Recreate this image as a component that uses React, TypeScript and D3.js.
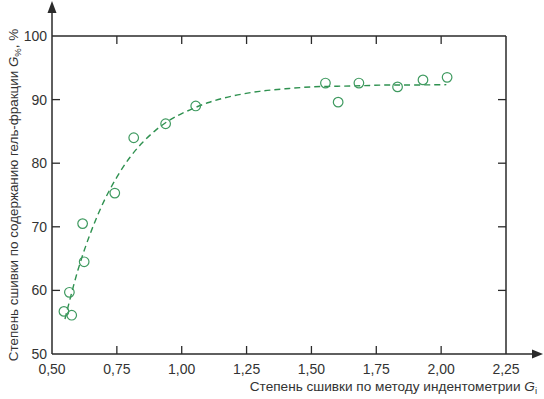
import React from "react";
import * as d3 from "d3";

const pointsX = [0.546, 0.576, 0.567, 0.618, 0.624, 0.742, 0.815, 0.938, 1.054, 1.554, 1.603, 1.683, 1.832, 1.93, 2.023];
const pointsY = [56.7, 56.1, 59.7, 70.5, 64.5, 75.3, 84.0, 86.2, 89.0, 92.6, 89.6, 92.6, 92.0, 93.1, 93.5];

const curveX = [0.55, 0.6, 0.65, 0.7, 0.75, 0.8, 0.85, 0.9, 0.95, 1.0, 1.1, 1.2, 1.3, 1.4, 1.5, 1.6, 1.7, 1.8, 1.9, 2.02];
const curveY = [55.5, 63.2, 69.2, 74.0, 77.8, 80.9, 83.3, 85.2, 86.7, 87.8, 89.5, 90.6, 91.3, 91.7, 92.0, 92.1, 92.2, 92.3, 92.3, 92.35];

const xTicks = [0.5, 0.75, 1.0, 1.25, 1.5, 1.75, 2.0, 2.25];
const yTicks = [50, 60, 70, 80, 90, 100];

const W = 544;
const H = 399;
const L = 52, R = 506, T = 36, B = 354;

export default function App() {
  const x = d3.scaleLinear().domain([0.5, 2.25]).range([L, R]);
  const y = d3.scaleLinear().domain([50, 100]).range([B, T]);
  const line = d3
    .line<number>()
    .x((_, i) => x(curveX[i]))
    .y((d) => y(d))
    .curve(d3.curveCatmullRom);
  const axisColor = "#2a2a2a";
  const textColor = "#333";
  const font = "'Liberation Sans', Arial, sans-serif";
  const fmt = (v: number) => v.toFixed(2).replace(".", ",");
  return (
    <svg
      width={W}
      height={H}
      style={{ position: "absolute", left: 0, top: 0, background: "#fff" }}
      fontFamily={font}
    >
      {/* frame */}
      <line x1={L} y1={B} x2={534} y2={B} stroke={axisColor} strokeWidth={1.5} />
      <path d={`M${W - 1},${B} L${532},${B - 4.5} L${532},${B + 4.5} Z`} fill={axisColor} />
      <line x1={L} y1={B} x2={L} y2={12} stroke={axisColor} strokeWidth={1.5} />
      <path d={`M${L},1 L${L - 4.5},${13} L${L + 4.5},${13} Z`} fill={axisColor} />
      <line x1={L} y1={T} x2={R} y2={T} stroke={axisColor} strokeWidth={1.5} />
      <line x1={R} y1={T} x2={R} y2={B} stroke={axisColor} strokeWidth={1.5} />
      {/* x ticks */}
      {xTicks.map((t) => (
        <g key={"x" + t}>
          {t > 0.5 && t < 2.25 && (
            <>
              <line x1={x(t)} x2={x(t)} y1={B} y2={B - 8} stroke={axisColor} strokeWidth={1.3} />
              <line x1={x(t)} x2={x(t)} y1={T} y2={T + 8} stroke={axisColor} strokeWidth={1.3} />
            </>
          )}
          <text x={x(t)} y={B + 20} textAnchor="middle" fontSize={14} fill={textColor}>
            {fmt(t)}
          </text>
        </g>
      ))}
      {/* y ticks */}
      {yTicks.map((t) => (
        <g key={"y" + t}>
          {t > 50 && t < 100 && (
            <>
              <line x1={L} x2={L + 8} y1={y(t)} y2={y(t)} stroke={axisColor} strokeWidth={1.3} />
              <line x1={R} x2={R - 8} y1={y(t)} y2={y(t)} stroke={axisColor} strokeWidth={1.3} />
            </>
          )}
          <text x={L - 5} y={y(t) + 5} textAnchor="end" fontSize={14} fill={textColor}>
            {t}
          </text>
        </g>
      ))}
      {/* curve */}
      <path
        d={line(curveY) || ""}
        fill="none"
        stroke="#2f9150"
        strokeWidth={1.4}
        strokeDasharray="6,4"
      />
      {/* points */}
      {pointsX.map((px, i) => (
        <circle
          key={"p" + i}
          cx={x(px)}
          cy={y(pointsY[i])}
          r={4.8}
          fill="none"
          stroke="#3f9a60"
          strokeWidth={1.2}
        />
      ))}
      {/* axis labels */}
      <text x={537} y={391} textAnchor="end" fontSize={13.6} fill={textColor}>
        Степень сшивки по методу индентометрии{" "}
        <tspan fontStyle="italic">G</tspan>
        <tspan fontSize={9.5} dy={3}>i</tspan>
      </text>
      <text
        transform={`translate(18,${195}) rotate(-90)`}
        textAnchor="middle"
        fontSize={13.4}
        fill={textColor}
      >
        Степень сшивки по содержанию гель-фракции{" "}
        <tspan fontStyle="italic">G</tspan>
        <tspan fontSize={9.5} dy={3}>%</tspan>
        <tspan dy={-3}>, %</tspan>
      </text>
    </svg>
  );
}
